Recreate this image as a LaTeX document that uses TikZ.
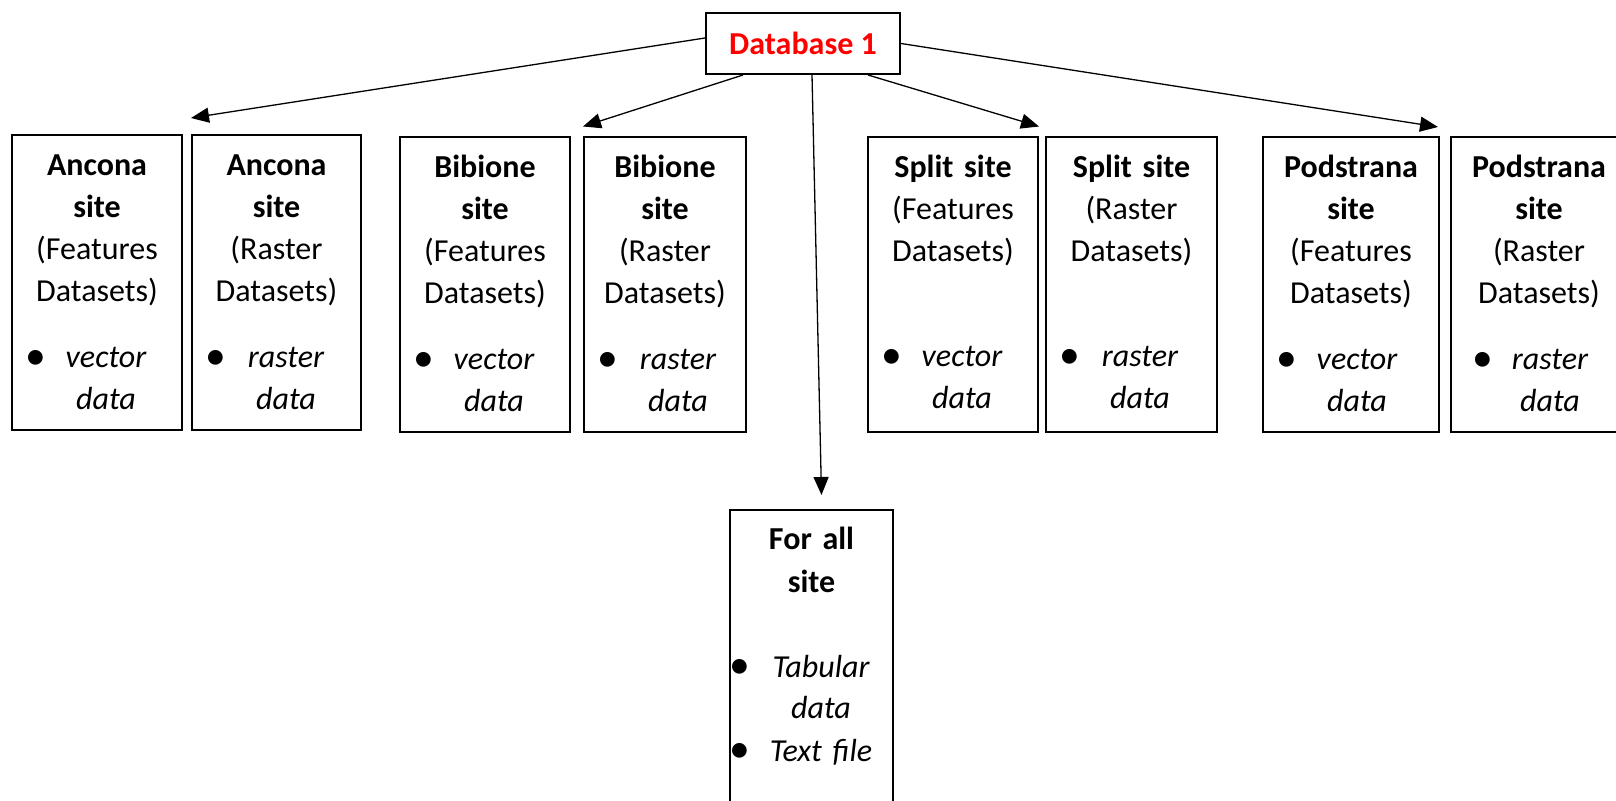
\documentclass[tikz,border=0pt]{standalone}
\usepackage{fontspec}
\setmainfont{Carlito}
\usepackage{tikz}
\usetikzlibrary{positioning}
\usetikzlibrary{arrows.meta}

% bullet lists inside the site boxes
\newlength\bulx  % centre of the bullet, from the box edge
\newlength\itemx % left edge of the item column
\newlength\itemw % width of the item column
\setlength\bulx{12pt}
\setlength\itemx{24pt}
\setlength\itemw{46pt}
\newcommand\bul[1]{\makebox[\linewidth][l]{\hspace{\bulx}\makebox[0pt]{\raisebox{-0.6pt}{\scalebox{1.3}{\textbullet}}}\hspace{\dimexpr\itemx-\bulx\relax}\makebox[\itemw]{\itshape #1}}}
\newcommand\cont[1]{\makebox[\linewidth][l]{\hspace{\itemx}\makebox[\itemw]{\itshape #1}}}

\tikzset{
  dbbox/.style={draw,line width=1pt,minimum width=97pt,minimum height=30.5pt,inner sep=0pt,
    font=\fontsize{16pt}{21pt}\selectfont\bfseries,text=red},
  sitebox/.style={draw,line width=1pt,inner sep=0pt,anchor=north west,align=center,
    text width=#1,text height=20.5pt,text depth=127pt,font=\fontsize{16pt}{21pt}\selectfont},
  feed/.style={-{Triangle[length=9pt,width=7.5pt]},line width=0.65pt}
}

\begin{document}
\begin{tikzpicture}[x=0.5pt,y=-0.5pt]
  \clip (0,0) rectangle (1616,801);

  \node[dbbox] (db) at (803,43.5) {Database 1};

  % Ancona
  \node[sitebox=85pt] (ancF) at (11,134)
    {\textbf{Ancona}\\\textbf{site}\\(Features\\Datasets)\\[12pt]\bul{vector}\\\cont{data}};
  \node[sitebox=84.5pt,right=4pt of ancF] (ancR)
    {\textbf{Ancona}\\\textbf{site}\\(Raster\\Datasets)\\[12pt]\bul{raster}\\\cont{data}};

  % Bibione
  \node[sitebox=85pt] (bibF) at (399,136)
    {\textbf{Bibione}\\\textbf{site}\\(Features\\Datasets)\\[12pt]\bul{vector}\\\cont{data}};
  \node[sitebox=81pt,right=6pt of bibF] (bibR)
    {\textbf{Bibione}\\\textbf{site}\\(Raster\\Datasets)\\[12pt]\bul{raster}\\\cont{data}};

  % Split
  \node[sitebox=85pt] (splF) at (867,136)
    {\textbf{Split site}\\(Features\\Datasets)\\[31.5pt]\bul{vector}\\\cont{data}};
  \node[sitebox=85.5pt,right=3pt of splF] (splR)
    {\textbf{Split site}\\(Raster\\Datasets)\\[31.5pt]\bul{raster}\\\cont{data}};

  % Podstrana
  \node[sitebox=88pt] (podF) at (1262,136)
    {\textbf{Podstrana}\\\textbf{site}\\(Features\\Datasets)\\[12pt]\bul{vector}\\\cont{data}};
  \node[sitebox=88pt,right=5pt of podF] (podR)
    {\setlength\bulx{16pt}\setlength\itemx{27pt}\setlength\itemw{45pt}%
     \textbf{Podstrana}\\\textbf{site}\\(Raster\\Datasets)\\[12pt]\bul{raster}\\\cont{data}};

  % shared data
  \node[sitebox=81.5pt,text height=20pt,text depth=150pt] (all) at (729,509)
    {\setlength\bulx{5pt}\setlength\itemx{20pt}\setlength\itemw{51pt}%
     \textbf{For all}\\\textbf{site}\\[21.5pt]\bul{Tabular}\\\cont{data}\\\bul{Text file}};

  \draw[feed] ([yshift=2.75pt]db.west) -- ([yshift=8pt]ancR.north west);
  \draw[feed] ([xshift=-30pt]db.south) -- ([yshift=4.75pt]bibR.north west);
  \draw[feed] ([xshift=4.5pt]db.south) -- ([xshift=5pt,yshift=7pt]all.north);
  \draw[feed] ([xshift=32.5pt]db.south) -- ([yshift=4.75pt]splF.north east);
  \draw[feed] (db.east) -- ([xshift=-1pt,yshift=4.5pt]podF.north east);
\end{tikzpicture}
\end{document}
